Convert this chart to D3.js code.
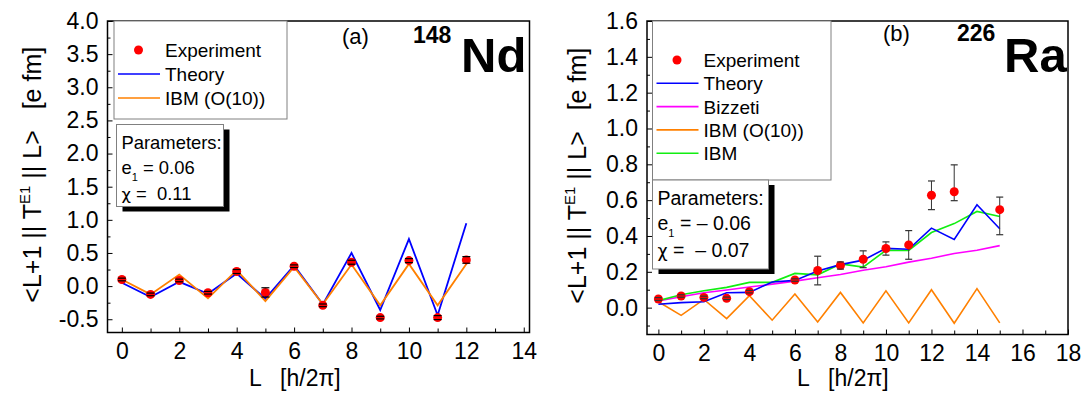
<!DOCTYPE html>
<html><head><meta charset="utf-8">
<script src="https://cdn.jsdelivr.net/npm/d3@7"></script>
<style>
body{margin:0;background:#fff}
svg{display:block}
text{font-family:"Liberation Sans",Arial,Helvetica,sans-serif;fill:#000}
</style>
</head><body>
<svg id="c" width="1084" height="393"></svg>
<script>
// ---------- Panel (a): 148Nd ----------
const La = [0,1,2,3,4,5,6,7,8,9,10,11,12];
const expA = [0.10,-0.125,0.085,-0.10,0.22,-0.095,0.30,-0.29,0.36,-0.475,0.385,-0.475,0.395];
const errA = [0.02,0.02,0.02,0.02,0.03,0.07,0.02,0.02,0.03,0.02,0.03,0.03,0.05];
const theoryA = [0.05,-0.165,0.065,-0.115,0.19,-0.19,0.31,-0.275,0.50,-0.36,0.71,-0.44,0.95];
const ibmO10A = [0.10,-0.125,0.175,-0.185,0.24,-0.225,0.29,-0.275,0.325,-0.29,0.335,-0.29,0.335];
const yTicksA = [-0.5,0,0.5,1,1.5,2,2.5,3,3.5,4];
const xTicksA = [0,2,4,6,8,10,12,14];

// ---------- Panel (b): 226Ra ----------
const Lb = [0,1,2,3,4,5,6,7,8,9,10,11,12,13,14,15];
const expLb = [0,1,2,3,4,6,7,8,9,10,11,12,13,15];
const expB = [0.048,0.065,0.057,0.052,0.089,0.154,0.207,0.235,0.27,0.33,0.35,0.627,0.647,0.547];
const expBlo = [0.040,0.058,0.050,0.045,0.082,0.147,0.127,0.215,0.223,0.293,0.270,0.547,0.597,0.407];
const expBhi = [0.056,0.072,0.064,0.059,0.096,0.161,0.287,0.255,0.317,0.367,0.430,0.707,0.797,0.617];
const theoryB = [0.019,0.028,0.033,0.083,0.085,0.143,0.152,0.204,0.240,0.265,0.331,0.326,0.444,0.381,0.574,0.440];
const bizzetiB = [0.037,0.061,0.083,0.098,0.115,0.131,0.148,0.167,0.185,0.209,0.228,0.254,0.276,0.302,0.320,0.346];
const ibmO10B = [0.033,-0.043,0.046,-0.061,0.067,-0.070,0.076,-0.080,0.085,-0.085,0.094,-0.085,0.100,-0.087,0.106,-0.085];
const ibmB = [0.039,0.072,0.094,0.113,0.141,0.141,0.191,0.183,0.244,0.226,0.320,0.319,0.419,0.469,0.537,0.509];
const yTicksB = [0,0.2,0.4,0.6,0.8,1.0,1.2,1.4,1.6];
const xTicksB = [0,2,4,6,8,10,12,14,16,18];

const COL = {exp:"#ff0000", theory:"#0000ff", ibmO10:"#ff8000", bizzeti:"#ff00ff", ibm:"#11ee11"};
const svg = d3.select("#c");
const FONT_TICK = 23;
const FF = '"Liberation Sans",Arial,sans-serif';

function panel(cfg){
  const g = svg.append("g");
  const x = d3.scaleLinear().domain(cfg.xDom).range(cfg.xRange);
  const y = d3.scaleLinear().domain(cfg.yDom).range(cfg.yRange);
  const [x0,x1] = cfg.xRange, [y1,y0] = cfg.yRange;

  const yMinor = d3.range(Math.ceil(cfg.yDom[0]/cfg.yMinorStep-1e-9)*cfg.yMinorStep, cfg.yDom[1]+1e-9, cfg.yMinorStep)
     .map(v=>+v.toFixed(4)).filter(v=>!cfg.yTicks.some(t=>Math.abs(t-v)<1e-6));
  g.append("g").attr("transform",`translate(${x0},0)`)
    .call(d3.axisLeft(y).tickValues(yMinor).tickSize(-3).tickFormat(""))
    .call(s=>s.select(".domain").remove());
  g.append("g").attr("transform",`translate(${x0},0)`)
    .call(d3.axisLeft(y).tickValues(cfg.yTicks).tickSize(-5).tickPadding(9).tickFormat(d=>d.toFixed(1)))
    .call(s=>s.select(".domain").remove())
    .call(s=>s.selectAll("text").style("font-size",FONT_TICK+"px").style("font-family",FF));
  const xMinor = d3.range(Math.ceil(cfg.xDom[0]), cfg.xDom[1]+1e-9, 1).filter(v=>!cfg.xTicks.includes(v));
  g.append("g").attr("transform",`translate(0,${y1})`)
    .call(d3.axisBottom(x).tickValues(xMinor).tickSize(-4).tickFormat(""))
    .call(s=>s.select(".domain").remove());
  g.append("g").attr("transform",`translate(0,${y1})`)
    .call(d3.axisBottom(x).tickValues(cfg.xTicks).tickSize(-5).tickPadding(10).tickFormat(d3.format("d")))
    .call(s=>s.select(".domain").remove())
    .call(s=>s.selectAll("text").style("font-size",FONT_TICK+"px").style("font-family",FF));
  g.selectAll(".tick line").attr("stroke","#000").attr("stroke-width",1);

  // lines
  const line = d3.line().x(d=>x(d[0])).y(d=>y(d[1]));
  cfg.lines.forEach(l=>{
    g.append("path").datum(cfg.L.map((v,i)=>[v,l.data[i]]))
      .attr("d",line).attr("fill","none").attr("stroke",l.color)
      .attr("stroke-width",l.w).attr("stroke-linejoin","miter");
  });

  // error bars + points
  const pts = cfg.expL.map((v,i)=>({L:v, v:cfg.exp[i], lo:cfg.lo[i], hi:cfg.hi[i]}));
  const eb = g.append("g").attr("stroke",cfg.errColor).attr("stroke-width",1);
  pts.forEach(p=>{
    eb.append("line").attr("x1",x(p.L)).attr("x2",x(p.L)).attr("y1",y(p.lo)).attr("y2",y(p.hi));
  });
  g.selectAll("circle.pt").data(pts).enter().append("circle").attr("class","pt")
    .attr("cx",d=>x(d.L)).attr("cy",d=>y(d.v)).attr("r",4.5).attr("fill",COL.exp);
  const caps = g.append("g").attr("stroke",cfg.errColor).attr("stroke-width",1.2);
  pts.forEach(p=>{
    [p.lo,p.hi].forEach(v=>caps.append("line").attr("x1",x(p.L)-cfg.cap).attr("x2",x(p.L)+cfg.cap).attr("y1",y(v)).attr("y2",y(v)));
  });

  // frame
  g.append("rect").attr("x",x0).attr("y",y0).attr("width",x1-x0).attr("height",y1-y0)
    .attr("fill","none").attr("stroke","#000").attr("stroke-width",1.5);

  // y title
  const yt = g.append("text").attr("transform",`translate(${cfg.yTitleX},${(y0+y1)/2-2}) rotate(-90)`)
    .attr("text-anchor","middle").style("font-size","25px").style("white-space","pre");
  yt.append("tspan").text("<L+1 || T");
  yt.append("tspan").attr("dy",-11).style("font-size","15px").text("E1");
  yt.append("tspan").attr("dy",11).text(" || L>   [e fm]");

  // x title
  g.append("text").attr("x",cfg.xTitleX).attr("y",386).style("font-size","23px").style("white-space","pre")
    .text("L   [h/2\u03c0]");

  // panel label and nucleus
  g.append("text").attr("x",cfg.labX).attr("y",cfg.labY).attr("text-anchor","middle").style("font-size","22px").text(cfg.lab);
  g.append("text").attr("x",cfg.massX).attr("y",cfg.massY).style("font-size","23px").style("font-weight","bold").text(cfg.mass);
  g.append("text").attr("x",cfg.elX).attr("y",72).style("font-size","49px").style("font-weight","bold").text(cfg.el);

  // legend
  const lg = cfg.legend;
  g.append("rect").attr("x",lg.x).attr("y",lg.y).attr("width",lg.w).attr("height",lg.h)
    .attr("fill","#fff").attr("stroke","#808080").attr("stroke-width",1);
  lg.items.forEach((it,i)=>{
    const yy = lg.y0 + i*lg.dy;
    if(it.type==="dot") g.append("circle").attr("cx",lg.x+24.5).attr("cy",yy).attr("r",4.5).attr("fill",it.color);
    else g.append("line").attr("x1",lg.x+4).attr("x2",lg.x+46).attr("y1",yy).attr("y2",yy).attr("stroke",it.color).attr("stroke-width",1.6);
    g.append("text").attr("x",lg.x+51).attr("y",yy+7).style("font-size","19px").style("white-space","pre").text(it.label);
  });

  // parameter box
  const pb = cfg.params;
  g.append("rect").attr("x",pb.x+6).attr("y",pb.y+5).attr("width",pb.w).attr("height",pb.h).attr("fill","#000");
  g.append("rect").attr("x",pb.x).attr("y",pb.y).attr("width",pb.w).attr("height",pb.h)
    .attr("fill","#fff").attr("stroke","#808080").attr("stroke-width",1);
  const tx = pb.x+5, fs = pb.fs+"px";
  g.append("text").attr("x",tx).attr("y",pb.b[0]).style("font-size",fs).text("Parameters:");
  const e = g.append("text").attr("x",tx).attr("y",pb.b[1]).style("font-size",fs).style("white-space","pre");
  e.append("tspan").text("e");
  e.append("tspan").attr("dy",7).style("font-size","11px").text("1");
  e.append("tspan").attr("dy",-7).text(" = "+pb.e1);
  const c = g.append("text").attr("x",tx).attr("y",pb.b[2]).style("font-size",fs).style("white-space","pre");
  c.append("tspan").style("font-family",'"DejaVu Sans",sans-serif').style("font-size",(pb.fs-2)+"px").text("\u03c7");
  c.append("tspan").text(" =  "+pb.chi);
}

panel({
  xDom:[-0.5,14.2], xRange:[107.5,529.5], yDom:[-0.7,4.0], yRange:[332.5,21],
  yTicks:yTicksA, yMinorStep:0.25, xTicks:xTicksA,
  L:La, lines:[{data:theoryA,color:COL.theory,w:1.8},{data:ibmO10A,color:COL.ibmO10,w:1.8}],
  expL:La, exp:expA, lo:expA.map((v,i)=>v-errA[i]), hi:expA.map((v,i)=>v+errA[i]), errColor:"#000", cap:4,
  yTitleX:41, xTitleX:249,
  lab:"(a)", labX:355.5, labY:44, mass:"148", massX:413, massY:43, el:"Nd", elX:461,
  legend:{x:114,y:21,w:173,h:98,y0:50,dy:24,items:[
    {type:"dot",color:COL.exp,label:"Experiment"},
    {type:"line",color:COL.theory,label:"Theory"},
    {type:"line",color:COL.ibmO10,label:"IBM (O(10))"}]},
  params:{x:116.5,y:124.5,w:107,h:82,b:[149,174,200],e1:"0.06",chi:"0.11",fs:18.4}
});

panel({
  xDom:[-0.5,18], xRange:[647,1068], yDom:[-0.15,1.6], yRange:[334.5,21],
  yTicks:yTicksB, yMinorStep:0.1, xTicks:xTicksB,
  L:Lb, lines:[{data:ibmO10B,color:COL.ibmO10,w:1.6},{data:bizzetiB,color:COL.bizzeti,w:1.6},{data:ibmB,color:COL.ibm,w:1.6},{data:theoryB,color:COL.theory,w:1.6}],
  expL:expLb, exp:expB, lo:expBlo, hi:expBhi, errColor:"#333", cap:3.5,
  yTitleX:586, xTitleX:797,
  lab:"(b)", labX:896.5, labY:41, mass:"226", massX:957, massY:41, el:"Ra", elX:1004,
  legend:{x:652.5,y:21,w:178.5,h:159,y0:60,dy:23.3,items:[
    {type:"dot",color:COL.exp,label:"Experiment"},
    {type:"line",color:COL.theory,label:"Theory"},
    {type:"line",color:COL.bizzeti,label:"Bizzeti"},
    {type:"line",color:COL.ibmO10,label:"IBM (O(10))"},
    {type:"line",color:COL.ibm,label:"IBM"}]},
  params:{x:652.5,y:180,w:116,h:89,b:[205,230,257],e1:"\u2013 0.06",chi:"\u2013 0.07",fs:19.5}
});
</script>
</body></html>
